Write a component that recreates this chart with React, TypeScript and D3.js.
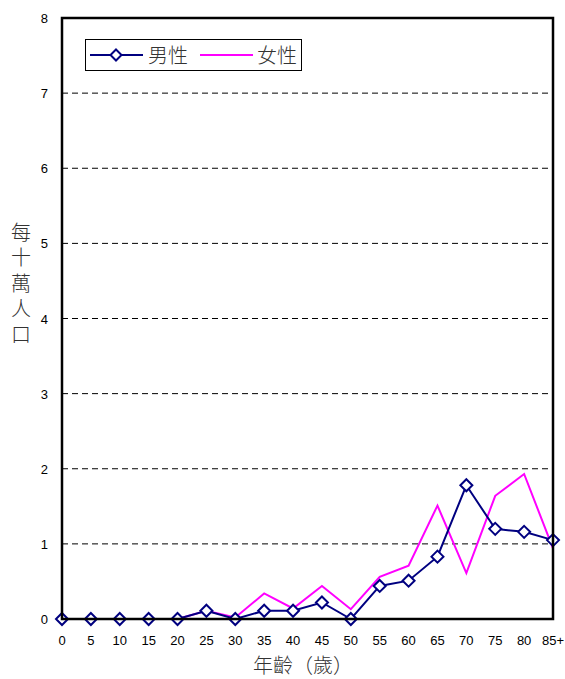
import React from "react";
import * as d3 from "d3";

const categories = ["0","5","10","15","20","25","30","35","40","45","50","55","60","65","70","75","80","85+"];
const maleValues = [0,0,0,0,0,0.11,0,0.11,0.11,0.22,0,0.44,0.51,0.83,1.78,1.2,1.16,1.05];
const femaleValues = [0,0,0,0,0,0.11,0.02,0.34,0.14,0.44,0.13,0.56,0.71,1.51,0.61,1.64,1.93,0.94];
const yTicks = [0,1,2,3,4,5,6,7,8];
const seriesNames = ["男性","女性"];
const yLabel = "每十萬人口";
const xTitle = "年齡（歲）";

const W = 565, H = 679;
const left = 62, right = 553, top = 18, bottom = 619;
const FONT = "'Liberation Sans', Arial, sans-serif";
const CJK = "'Noto Sans CJK TC', 'Noto Sans CJK SC', sans-serif";

export default function App() {
  const x = d3.scalePoint<string>().domain(categories).range([left, right]);
  const y = d3.scaleLinear().domain([0, 8]).range([bottom, top]);
  const line = d3.line<number>().x((_, i) => x(categories[i])!).y((d) => y(d));
  const diamond = (cx: number, cy: number, r = 6) =>
    `M${cx},${cy - r}L${cx + r},${cy}L${cx},${cy + r}L${cx - r},${cy}Z`;

  return (
    <svg width={W} height={H} style={{ position: "absolute", left: 0, top: 0 }}>
      <rect x={0} y={0} width={W} height={H} fill="white" />
      {yTicks.filter((t) => t > 0 && t < 8).map((t) => (
        <line key={t} x1={left} x2={right} y1={y(t)} y2={y(t)} stroke="#000" strokeWidth={1} strokeDasharray="6,4" />
      ))}
      {yTicks.map((t) => (
        <text key={t} x={48} y={y(t) + 5} textAnchor="end" fontFamily={FONT} fontSize={13} fill="#000">{t}</text>
      ))}
      {categories.map((c) => (
        <text key={c} x={x(c)!} y={645} textAnchor="middle" fontFamily={FONT} fontSize={13} fill="#000">{c}</text>
      ))}
      <path d={line(femaleValues)!} fill="none" stroke="#FF00FF" strokeWidth={2} />
      <path d={line(maleValues)!} fill="none" stroke="#000080" strokeWidth={2} />
      {maleValues.map((v, i) => (
        <path key={i} d={diamond(x(categories[i])!, y(v))} fill="white" stroke="#000080" strokeWidth={2} />
      ))}
      <rect x={left} y={top} width={right - left} height={bottom - top} fill="none" stroke="#000" strokeWidth={2.5} />
      {/* legend */}
      <rect x={85.5} y={39.5} width={216} height={31} fill="white" stroke="#000" strokeWidth={1} />
      <line x1={90} x2={143} y1={55} y2={55} stroke="#000080" strokeWidth={2} />
      <path d={diamond(116, 55, 5.5)} fill="white" stroke="#000080" strokeWidth={2} />
      <text x={148} y={63} fontFamily={CJK} fontSize={20} fontWeight={300} fill="#333">{seriesNames[0]}</text>
      <line x1={200} x2={253} y1={55} y2={55} stroke="#FF00FF" strokeWidth={2} />
      <text x={257} y={63} fontFamily={CJK} fontSize={20} fontWeight={300} fill="#333">{seriesNames[1]}</text>
      <text x={21} y={222} fontFamily={CJK} fontSize={20} fontWeight={300} fill="#333"
        letterSpacing={5.6} style={{ writingMode: "vertical-rl" }}>{yLabel}</text>
      <text x={303} y={673} textAnchor="middle" fontFamily={CJK} fontSize={20} fontWeight={300} fill="#333">{xTitle}</text>
    </svg>
  );
}
